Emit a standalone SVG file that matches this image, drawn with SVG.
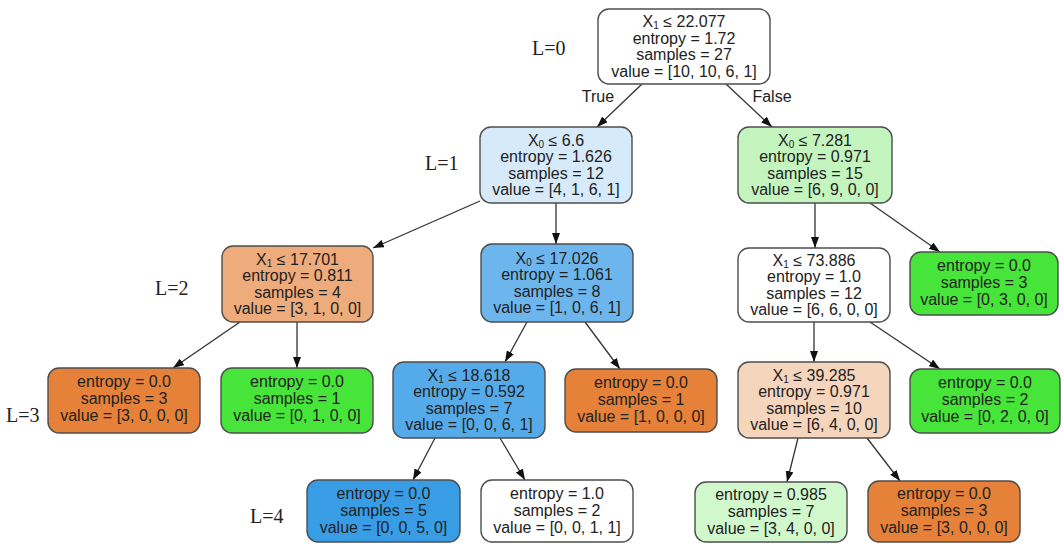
<svg xmlns="http://www.w3.org/2000/svg" width="1064" height="544" viewBox="0 0 1064 544">
<defs>
<style>
.box{stroke:#4d4d4d;stroke-width:1.4}
.t{font-family:"Liberation Sans",Arial,sans-serif;font-size:16px;fill:#222;text-anchor:middle}
.s{font-size:10px}
.lvl{font-family:"Liberation Serif","Times New Roman",serif;font-size:20px;fill:#222}
.e{stroke:#333;stroke-width:1.3;fill:none;marker-end:url(#arr)}
</style>
<marker id="arr" markerUnits="userSpaceOnUse" markerWidth="11" markerHeight="8" refX="11" refY="4" orient="auto">
<path d="M0,0 L11,4 L0,8 z" fill="#111"/>
</marker>
</defs>
<rect width="1064" height="544" fill="#fff"/>

<g id="levels">
<text class="lvl" x="532" y="55">L=0</text>
<text class="lvl" x="425" y="170">L=1</text>
<text class="lvl" x="155" y="295">L=2</text>
<text class="lvl" x="6" y="422">L=3</text>
<text class="lvl" x="250" y="523">L=4</text>
</g>

<g id="connectors">
<line class="e" x1="642" y1="84" x2="597" y2="127"/>
<line class="e" x1="726" y1="84" x2="772" y2="127"/>
<line class="e" x1="480" y1="201" x2="373" y2="248"/>
<line class="e" x1="556" y1="203" x2="556" y2="244"/>
<line class="e" x1="815" y1="203" x2="815" y2="248"/>
<line class="e" x1="870" y1="203" x2="940" y2="252"/>
<line class="e" x1="240" y1="322" x2="173" y2="368"/>
<line class="e" x1="297" y1="322" x2="297" y2="368"/>
<line class="e" x1="527" y1="322" x2="505" y2="362"/>
<line class="e" x1="585" y1="322" x2="620" y2="369"/>
<line class="e" x1="814" y1="322" x2="814" y2="362"/>
<line class="e" x1="870" y1="322" x2="940" y2="369"/>
<line class="e" x1="435" y1="438" x2="413" y2="480"/>
<line class="e" x1="500" y1="438" x2="525" y2="480"/>
<line class="e" x1="798" y1="438" x2="787" y2="482"/>
<line class="e" x1="867" y1="438" x2="900" y2="481"/>
<text class="t" x="598" y="102">True</text>
<text class="t" x="772" y="102">False</text>
</g>

<g id="n0">
<rect class="box" x="598" y="9" width="172" height="75" rx="11" fill="#ffffff"/>
<text class="t" x="684" y="27">X<tspan class="s" dy="2">1</tspan><tspan dy="-2"> ≤ 22.077</tspan></text>
<text class="t" x="684" y="43.5">entropy = 1.72</text>
<text class="t" x="684" y="60">samples = 27</text>
<text class="t" x="684" y="76.5">value = [10, 10, 6, 1]</text>
</g>

<g id="n1">
<rect class="box" x="480" y="127" width="152" height="76" rx="11" fill="#d6eafa"/>
<text class="t" x="556" y="145.5">X<tspan class="s" dy="2">0</tspan><tspan dy="-2"> ≤ 6.6</tspan></text>
<text class="t" x="556" y="162">entropy = 1.626</text>
<text class="t" x="556" y="178.5">samples = 12</text>
<text class="t" x="556" y="195">value = [4, 1, 6, 1]</text>
</g>

<g id="n2">
<rect class="box" x="738" y="127" width="154" height="76" rx="11" fill="#c4f5bf"/>
<text class="t" x="815" y="145.5">X<tspan class="s" dy="2">0</tspan><tspan dy="-2"> ≤ 7.281</tspan></text>
<text class="t" x="815" y="162">entropy = 0.971</text>
<text class="t" x="815" y="178.5">samples = 15</text>
<text class="t" x="815" y="195">value = [6, 9, 0, 0]</text>
</g>

<g id="n3">
<rect class="box" x="222" y="246" width="151" height="76" rx="11" fill="#eeab7b"/>
<text class="t" x="297.5" y="264.5">X<tspan class="s" dy="2">1</tspan><tspan dy="-2"> ≤ 17.701</tspan></text>
<text class="t" x="297.5" y="281">entropy = 0.811</text>
<text class="t" x="297.5" y="297.5">samples = 4</text>
<text class="t" x="297.5" y="314">value = [3, 1, 0, 0]</text>
</g>

<g id="n4">
<rect class="box" x="481" y="244" width="152" height="78" rx="11" fill="#6cb6ed"/>
<text class="t" x="557" y="263.5">X<tspan class="s" dy="2">0</tspan><tspan dy="-2"> ≤ 17.026</tspan></text>
<text class="t" x="557" y="280">entropy = 1.061</text>
<text class="t" x="557" y="296.5">samples = 8</text>
<text class="t" x="557" y="313">value = [1, 0, 6, 1]</text>
</g>

<g id="n5">
<rect class="box" x="738" y="248" width="152" height="74" rx="11" fill="#ffffff"/>
<text class="t" x="814" y="265.5">X<tspan class="s" dy="2">1</tspan><tspan dy="-2"> ≤ 73.886</tspan></text>
<text class="t" x="814" y="282">entropy = 1.0</text>
<text class="t" x="814" y="298.5">samples = 12</text>
<text class="t" x="814" y="315">value = [6, 6, 0, 0]</text>
</g>

<g id="n6">
<rect class="box" x="910" y="252" width="148" height="63" rx="11" fill="#47e539"/>
<text class="t" x="984" y="271">entropy = 0.0</text>
<text class="t" x="984" y="288">samples = 3</text>
<text class="t" x="984" y="305">value = [0, 3, 0, 0]</text>
</g>

<g id="n7">
<rect class="box" x="48" y="368" width="152" height="65" rx="11" fill="#e58139"/>
<text class="t" x="124" y="387">entropy = 0.0</text>
<text class="t" x="124" y="404">samples = 3</text>
<text class="t" x="124" y="421">value = [3, 0, 0, 0]</text>
</g>

<g id="n8">
<rect class="box" x="221" y="368" width="152" height="65" rx="11" fill="#47e539"/>
<text class="t" x="297" y="387">entropy = 0.0</text>
<text class="t" x="297" y="404">samples = 1</text>
<text class="t" x="297" y="421">value = [0, 1, 0, 0]</text>
</g>

<g id="n9">
<rect class="box" x="393" y="362" width="152" height="76" rx="11" fill="#55abe9"/>
<text class="t" x="469" y="380.5">X<tspan class="s" dy="2">1</tspan><tspan dy="-2"> ≤ 18.618</tspan></text>
<text class="t" x="469" y="397">entropy = 0.592</text>
<text class="t" x="469" y="413.5">samples = 7</text>
<text class="t" x="469" y="430">value = [0, 0, 6, 1]</text>
</g>

<g id="n10">
<rect class="box" x="565" y="369" width="152" height="63" rx="11" fill="#e58139"/>
<text class="t" x="641" y="387.5">entropy = 0.0</text>
<text class="t" x="641" y="404.5">samples = 1</text>
<text class="t" x="641" y="421.5">value = [1, 0, 0, 0]</text>
</g>

<g id="n11">
<rect class="box" x="738" y="362" width="152" height="76" rx="11" fill="#f6d5bd"/>
<text class="t" x="814" y="380.5">X<tspan class="s" dy="2">1</tspan><tspan dy="-2"> ≤ 39.285</tspan></text>
<text class="t" x="814" y="397">entropy = 0.971</text>
<text class="t" x="814" y="413.5">samples = 10</text>
<text class="t" x="814" y="430">value = [6, 4, 0, 0]</text>
</g>

<g id="n12">
<rect class="box" x="910" y="369" width="150" height="64" rx="11" fill="#47e539"/>
<text class="t" x="985" y="388">entropy = 0.0</text>
<text class="t" x="985" y="405">samples = 2</text>
<text class="t" x="985" y="422">value = [0, 2, 0, 0]</text>
</g>

<g id="n13">
<rect class="box" x="307" y="480" width="153" height="62" rx="11" fill="#399de5"/>
<text class="t" x="383.5" y="498.5">entropy = 0.0</text>
<text class="t" x="383.5" y="515.5">samples = 5</text>
<text class="t" x="383.5" y="532.5">value = [0, 0, 5, 0]</text>
</g>

<g id="n14">
<rect class="box" x="481" y="480" width="152" height="62" rx="11" fill="#ffffff"/>
<text class="t" x="557" y="498.5">entropy = 1.0</text>
<text class="t" x="557" y="515.5">samples = 2</text>
<text class="t" x="557" y="532.5">value = [0, 0, 1, 1]</text>
</g>

<g id="n15">
<rect class="box" x="695" y="482" width="152" height="60" rx="11" fill="#d1f8cd"/>
<text class="t" x="771" y="499.5">entropy = 0.985</text>
<text class="t" x="771" y="516.5">samples = 7</text>
<text class="t" x="771" y="533.5">value = [3, 4, 0, 0]</text>
</g>

<g id="n16">
<rect class="box" x="868" y="481" width="152" height="61" rx="11" fill="#e58139"/>
<text class="t" x="944" y="499">entropy = 0.0</text>
<text class="t" x="944" y="516">samples = 3</text>
<text class="t" x="944" y="533">value = [3, 0, 0, 0]</text>
</g>
</svg>
